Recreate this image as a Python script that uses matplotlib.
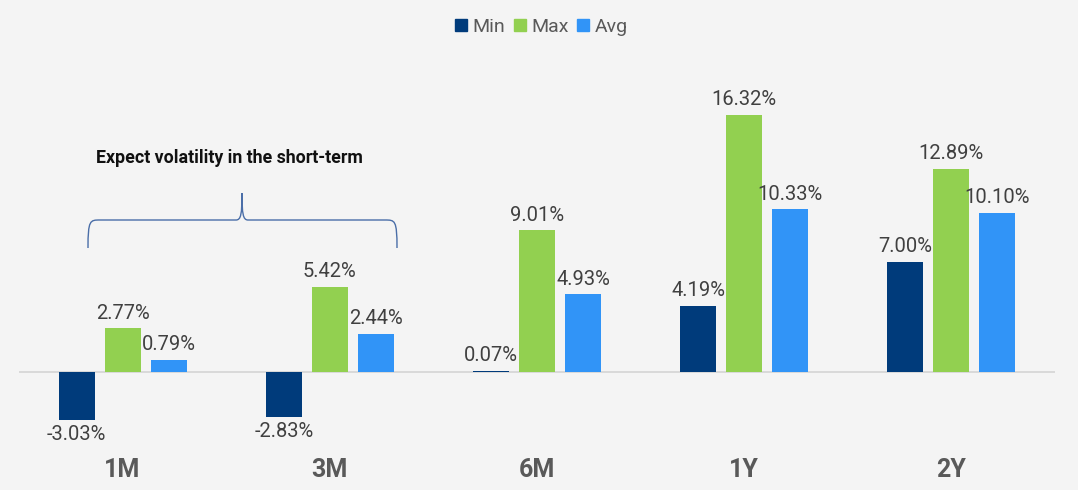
import matplotlib
matplotlib.use("Agg")
import matplotlib.pyplot as plt
from matplotlib.path import Path
from matplotlib.patches import PathPatch
from matplotlib.lines import Line2D
import numpy as np

categories = ["1M", "3M", "6M", "1Y", "2Y"]
min_vals = [-3.03, -2.83, 0.07, 4.19, 7.00]
max_vals = [2.77, 5.42, 9.01, 16.32, 12.89]
avg_vals = [0.79, 2.44, 4.93, 10.33, 10.10]
series_names = ["Min", "Max", "Avg"]
colors = ["#003b7b", "#92d050", "#3194f7"]
annotation_text = "Expect volatility in the short-term"

plt.rcParams['font.family'] = ['Roboto', 'DejaVu Sans']
bg = "#f4f4f4"
fig = plt.figure(figsize=(10.78, 4.90), dpi=100, facecolor=bg)
ax = fig.add_axes([19/1078, 50/490, 1036/1078, 380/490])
ax.set_facecolor(bg)

x = np.arange(len(categories))
width = 36/207
step = 46/207
for i, (vals, col) in enumerate(zip([min_vals, max_vals, avg_vals], colors)):
    pos = x + (i - 1) * step
    ax.bar(pos, vals, width, color=col, zorder=3)
    for xp, v in zip(pos, vals):
        if v >= 0:
            ax.annotate(f"{v:.2f}%", (xp, v), xytext=(0, 4), textcoords="offset points",
                        ha="center", va="bottom", fontsize=14.5, color="#404040")
        else:
            ax.annotate(f"{v:.2f}%", (xp, v), xytext=(0, -4), textcoords="offset points",
                        ha="center", va="top", fontsize=14.5, color="#404040")

ax.set_xlim(-0.5, len(categories) - 0.5)
ax.set_ylim(-4.32, 19.81)
ax.axhline(0, color="#d4d4d4", lw=1.2, zorder=2)
for s in ax.spines.values():
    s.set_visible(False)
ax.set_yticks([])
ax.set_xticks([])
for xi, c in zip(x, categories):
    ax.text(xi, -6.2, c, ha="center", va="center", fontsize=18, fontweight="bold",
            color="#595959", transform=ax.transData, clip_on=False)

# Legend
handles = [Line2D([0], [0], marker="s", color="none", markerfacecolor=c, markeredgecolor=c,
                  markersize=9) for c in colors]
fig.legend(handles, series_names, loc="center", bbox_to_anchor=(540/1078, 1 - 27/490),
           ncol=3, frameon=False, fontsize=14, handletextpad=0.15, columnspacing=0.3,
           labelcolor="#595959", handlelength=0.9)

# Curly brace annotation (in pixel-based figure coordinates)
def fx(px):
    return px / 1078
def fy(py):
    return 1 - py / 490

x0, x1, xm = 88, 397, 242
yb, yh, yt = 248, 220, 193
verts = [
    (fx(x0), fy(yb)),
    (fx(x0), fy(yh)), (fx(x0 + 2), fy(yh)), (fx(x0 + 12), fy(yh)),
    (fx(xm - 6), fy(yh)),
    (fx(xm - 1), fy(yh)), (fx(xm), fy(yh - 6)), (fx(xm), fy(yt)),
    (fx(xm), fy(yh - 6)), (fx(xm + 1), fy(yh)), (fx(xm + 6), fy(yh)),
    (fx(x1 - 12), fy(yh)),
    (fx(x1 - 2), fy(yh)), (fx(x1), fy(yh)), (fx(x1), fy(yb)),
]
codes = [Path.MOVETO,
         Path.CURVE4, Path.CURVE4, Path.CURVE4,
         Path.LINETO,
         Path.CURVE4, Path.CURVE4, Path.CURVE4,
         Path.CURVE4, Path.CURVE4, Path.CURVE4,
         Path.LINETO,
         Path.CURVE4, Path.CURVE4, Path.CURVE4]
patch = PathPatch(Path(verts, codes), facecolor="none", edgecolor="#4a6ea8", lw=1.0,
                  transform=fig.transFigure)
fig.patches.append(patch)
fig.text(fx(229), fy(158), annotation_text, ha="center", va="center", fontsize=12.8,
         fontweight="bold", color="#111111")

fig.savefig("out.png", dpi=100, facecolor=bg)
